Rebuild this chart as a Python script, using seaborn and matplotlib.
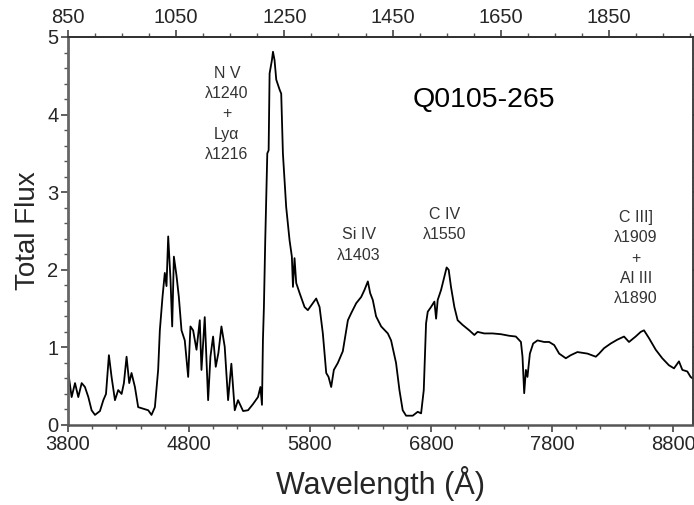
import numpy as np
import pandas as pd
import matplotlib
matplotlib.use("Agg")
import matplotlib.pyplot as plt
from matplotlib.ticker import MultipleLocator
import seaborn as sns

wavelength = [
    3803, 3830, 3858, 3885, 3913, 3940, 3968, 3995, 4023, 4064, 4092, 4114, 4138, 4160,
    4188, 4215, 4243, 4262, 4284, 4306, 4325, 4353, 4380, 4422, 4463, 4490, 4518, 4545,
    4559, 4581, 4600, 4614, 4628, 4647, 4661, 4675, 4697, 4716, 4738, 4765, 4793, 4812,
    4834, 4862, 4889, 4903, 4930, 4958, 4977, 4999, 5021, 5043, 5068, 5095, 5123, 5150,
    5178, 5205, 5247, 5288, 5329, 5370, 5390, 5403, 5411, 5419, 5430, 5447, 5458, 5466,
    5485, 5494, 5507, 5521, 5549, 5562, 5576, 5603, 5631, 5650, 5659, 5672, 5686, 5714,
    5755, 5782, 5824, 5851, 5879, 5906, 5934, 5953, 5975, 5997, 6030, 6071, 6113, 6140,
    6182, 6223, 6250, 6278, 6297, 6319, 6346, 6388, 6443, 6470, 6511, 6539, 6566, 6594,
    6649, 6690, 6718, 6740, 6759, 6773, 6800, 6828, 6842, 6855, 6883, 6910, 6929, 6946,
    6965, 6993, 7020, 7061, 7116, 7158, 7185, 7240, 7309, 7378, 7446, 7501, 7543, 7556,
    7570, 7584, 7597, 7617, 7644, 7680, 7735, 7776, 7818, 7859, 7914, 7955, 8010, 8093,
    8162, 8189, 8230, 8285, 8340, 8395, 8436, 8491, 8533, 8560, 8601, 8657, 8711, 8766,
    8808, 8849, 8877, 8918, 8945, 8962,
]
flux = [
    0.67, 0.36, 0.54, 0.36, 0.54, 0.49, 0.36, 0.19, 0.13, 0.18, 0.32, 0.40, 0.90, 0.62,
    0.32, 0.45, 0.40, 0.54, 0.88, 0.54, 0.67, 0.49, 0.23, 0.21, 0.19, 0.13, 0.23, 0.71,
    1.22, 1.65, 1.96, 1.79, 2.43, 1.88, 1.27, 2.17, 1.92, 1.65, 1.22, 1.09, 0.62, 1.27,
    1.22, 0.97, 1.35, 0.71, 1.39, 0.32, 0.88, 1.14, 0.75, 0.93, 1.27, 1.01, 0.32, 0.79,
    0.19, 0.32, 0.18, 0.19, 0.27, 0.36, 0.49, 0.26, 1.10, 1.52, 2.38, 3.50, 3.54, 4.53,
    4.70, 4.81, 4.70, 4.45, 4.32, 4.27, 3.50, 2.81, 2.38, 2.17, 1.78, 2.15, 1.83, 1.70,
    1.52, 1.48, 1.57, 1.63, 1.52, 1.18, 0.67, 0.62, 0.49, 0.71, 0.80, 0.95, 1.35, 1.44,
    1.57, 1.65, 1.74, 1.85, 1.70, 1.61, 1.40, 1.27, 1.18, 1.09, 0.80, 0.45, 0.19, 0.12,
    0.12, 0.17, 0.15, 0.45, 1.31, 1.46, 1.52, 1.59, 1.37, 1.61, 1.74, 1.91, 2.03, 2.00,
    1.78, 1.52, 1.35, 1.29, 1.22, 1.16, 1.20, 1.18, 1.18, 1.17, 1.15, 1.14, 1.07, 0.88,
    0.41, 0.71, 0.62, 0.92, 1.05, 1.09, 1.07, 1.07, 1.03, 0.92, 0.86, 0.90, 0.94, 0.92,
    0.88, 0.92, 0.99, 1.05, 1.10, 1.14, 1.07, 1.14, 1.20, 1.22, 1.12, 0.97, 0.86, 0.77,
    0.73, 0.82, 0.71, 0.69, 0.62, 0.60,
]

bottom_ticks = [3800, 4800, 5800, 6800, 7800, 8800]
top_ticks = [850, 1050, 1250, 1450, 1650, 1850]
one_plus_z = 3800 / 850

line_labels = ["N V\nλ1240\n+\nLyα\nλ1216", "Si IV\nλ1403", "C IV\nλ1550",
               "C III]\nλ1909\n+\nAl III\nλ1890"]
label_x = [5112, 6201, 6910, 8494]
label_y = [4.01, 2.32, 2.58, 2.15]
object_name = "Q0105-265"

sns.set_style("ticks")
plt.rcParams["font.family"] = ["Liberation Sans", "DejaVu Sans"]

df = pd.DataFrame({"wavelength": wavelength, "flux": flux})

fig = plt.figure(figsize=(6.94, 5.05), dpi=100)
ax = fig.add_axes([68 / 694, 1 - 425 / 505, 625 / 694, 388 / 505])
sns.lineplot(data=df, x="wavelength", y="flux", color="black", linewidth=1.3, ax=ax)

ax.set_xlim(3800, 8965)
ax.set_ylim(0, 5)
ax.set_xticks(bottom_ticks)
ax.xaxis.set_minor_locator(MultipleLocator(200))
ax.set_yticks([0, 1, 2, 3, 4, 5])
ax.yaxis.set_minor_locator(MultipleLocator(0.2))
ax.tick_params(axis="both", which="major", labelsize=14.5, length=5, width=1.2,
               color="#444444", direction="out", pad=2)
ax.tick_params(axis="both", which="minor", length=3, width=1.0, color="#555555",
               direction="out")
ax.tick_params(axis="y", which="both", right=True)
for s in ax.spines.values():
    s.set_visible(True)
    s.set_linewidth(1.3)
    s.set_color("#333333")
ax.spines["left"].set_color("#666666")
ax.spines["left"].set_linewidth(2.0)
ax.spines["bottom"].set_color("#555555")
ax.spines["bottom"].set_linewidth(1.8)

ax.set_xlabel("Wavelength (Å)", fontsize=22, labelpad=9)
ax.set_ylabel("Total Flux", fontsize=20, labelpad=4)

sec = ax.secondary_xaxis("top", functions=(lambda w: w / one_plus_z, lambda r: r * one_plus_z))
sec.set_xticks(top_ticks)
sec.xaxis.set_minor_locator(MultipleLocator(50))
sec.tick_params(which="major", labelsize=14.5, length=5, width=1.2, color="#444444", pad=2)
sec.tick_params(which="minor", length=3, width=1.0, color="#555555")
sec.spines["top"].set_linewidth(1.3)

for txt, x, y in zip(line_labels, label_x, label_y):
    ax.text(x, y, txt, ha="center", va="center", fontsize=11.5, color="#333333",
            linespacing=1.45)
ax.text(7240, 4.19, object_name, ha="center", va="center", fontsize=20.5, color="black")

fig.savefig("out.png", dpi=100)
